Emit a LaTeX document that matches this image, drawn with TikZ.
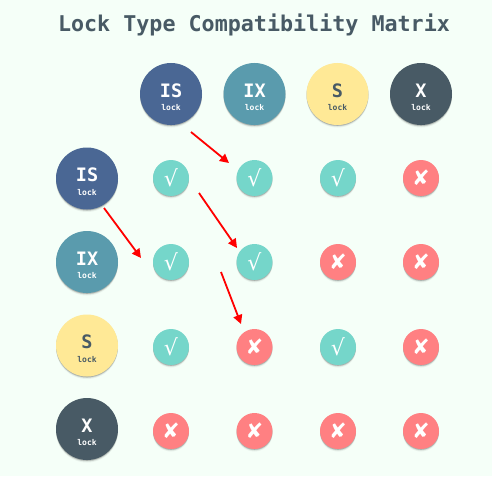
\documentclass[tikz,border=0pt]{standalone}
\usepackage{fontspec}
\setmainfont{DejaVu Sans}
\newfontfamily\monof{DejaVu Sans Mono}
\usetikzlibrary{arrows.meta}
\definecolor{bgc}{HTML}{F5FFF8}
\definecolor{isc}{HTML}{4A6794}
\definecolor{ixc}{HTML}{5A9BAD}
\definecolor{sc}{HTML}{FFE996}
\definecolor{xc}{HTML}{485A65}
\definecolor{okc}{HTML}{75D6CA}
\definecolor{noc}{HTML}{FF8082}
\newcommand{\lockl}[1]{\rule{0pt}{20pt}{\monof\bfseries\fontsize{18.5}{18.5}\selectfont #1}\\[1.5pt]{\monof\bfseries\fontsize{8}{8}\selectfont lock}}
\tikzset{
  x=1pt,y=-1pt,
  shadowed/.style={circle,inner sep=0pt,
    preaction={draw=none,fill=black,opacity=.05,transform canvas={yshift=-2.5pt}},
    preaction={draw=none,fill=black,opacity=.1,transform canvas={yshift=-1.5pt}},
    preaction={draw=none,fill=black,opacity=.18,transform canvas={yshift=-.8pt}}},
  bigc/.style={shadowed,minimum size=62pt,align=center,text=white},
  isn/.style={bigc,fill=isc},
  ixn/.style={bigc,fill=ixc},
  sn/.style={bigc,fill=sc,text=xc},
  xn/.style={bigc,fill=xc},
  okn/.style={shadowed,minimum size=36pt,fill=okc,text=white,font=\fontsize{22}{22}\selectfont},
  non/.style={shadowed,minimum size=36pt,fill=noc,text=white,font=\fontsize{21}{21}\selectfont},
  redarrow/.style={draw=red,line width=1.8pt,-{Triangle[length=9pt,width=9pt]}},
}
\newcommand{\ok}{√}
\newcommand{\no}{✘}
\begin{document}
\begin{tikzpicture}
\useasboundingbox[fill=bgc] (0,0) rectangle (492,476);
\node (title) at (254,25) [text=xc,font=\monof\bfseries\fontsize{21.7}{21.7}\selectfont] {Lock Type Compatibility Matrix};
\node[isn] (tIS) at (171,94) {\lockl{IS}};
\node[ixn] (tIX) at (254.5,94) {\lockl{IX}};
\node[sn] (tS) at (337.5,94) {\lockl{S}};
\node[xn] (tX) at (421,94) {\lockl{X}};
\node[isn] (lIS) at (87,178.5) {\lockl{IS}};
\node[ixn] (lIX) at (87,262) {\lockl{IX}};
\node[sn] (lS) at (87,345.5) {\lockl{S}};
\node[xn] (lX) at (87,429) {\lockl{X}};
\node[okn] (a1) at (171,178) {\ok};
\node[okn] (a2) at (254.5,178) {\ok};
\node[okn] (a3) at (338,178) {\ok};
\node[non] (a4) at (421,178) {\no};
\node[okn] (b1) at (171,262) {\ok};
\node[okn] (b2) at (254.5,262) {\ok};
\node[non] (b3) at (338,262) {\no};
\node[non] (b4) at (421,262) {\no};
\node[okn] (c1) at (171,347) {\ok};
\node[non] (c2) at (254.5,347) {\no};
\node[okn] (c3) at (338,347) {\ok};
\node[non] (c4) at (421,347) {\no};
\node[non] (d1) at (171,431) {\no};
\node[non] (d2) at (254.5,431) {\no};
\node[non] (d3) at (338,431) {\no};
\node[non] (d4) at (421,431) {\no};
\coordinate (p1s) at (191,132); \coordinate (p1e) at (229,163);
\coordinate (p2s) at (104,208); \coordinate (p2e) at (141,258);
\coordinate (p3s) at (199,193); \coordinate (p3e) at (237,248);
\coordinate (p4s) at (221,272); \coordinate (p4e) at (241,324);
\draw[redarrow] (p1s) -- (p1e);
\draw[redarrow] (p2s) -- (p2e);
\draw[redarrow] (p3s) -- (p3e);
\draw[redarrow] (p4s) -- (p4e);
\end{tikzpicture}
\end{document}
